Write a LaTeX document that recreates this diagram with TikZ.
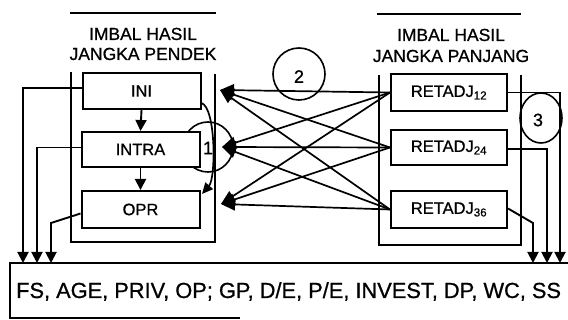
\documentclass[tikz,border=0pt]{standalone}
\usepackage{fontspec}
\setmainfont{Liberation Sans}[FakeBold=0.8]
\usetikzlibrary{arrows.meta}
\begin{document}
\begin{tikzpicture}[x=1pt,y=-1pt,
  box/.style={draw, line width=2pt, fill=white, minimum width=118pt, minimum height=36pt, inner sep=0pt, font=\fontsize{16.5}{18}\selectfont},
  frame/.style={line width=1.3pt},
  head/.style={font=\fontsize{17.5}{19}\selectfont, anchor=base},
  num/.style={font=\fontsize{18}{20}\selectfont},
  conn/.style={line width=1.9pt, -{Triangle[length=11pt,width=11pt]}},
  cross/.style={line width=1.7pt, -{Triangle[length=14pt,width=12pt]}}]
\useasboundingbox (0,0) rectangle (568,320);
% headings
\draw[frame] (70,13) -- (216,13);
\draw[frame] (377,14) -- (521,14);
\node[head] (h1a) at (143,40) {IMBAL HASIL};
\node[head] (h1b) at (143,60) {JANGKA PENDEK};
\node[head] (h2a) at (451,41) {IMBAL HASIL};
\node[head] (h2b) at (451,62) {JANGKA PANJANG};
% outer frames
\draw[frame] (71,72) -- (71,242) -- (215,242) -- (215,74);
\draw[frame] (379,75) -- (379,245) -- (521,245) -- (521,75);
% circles
\draw[line width=1.6pt] (208,147) circle (25);
\node[num] (c1) at (208,148) {1};
\draw[line width=1.6pt] (299,74) circle (26);
\node[num] (c2) at (299,76.5) {2};
\draw[line width=1.6pt] (541,118) ellipse (21 and 25);
\node[num] (c3) at (538,120) {3};
% boxes
\node[box] (ini) at (141.5,91) {INI};
\node[box, minimum height=35pt] (intra) at (140.5,149.5) {INTRA};
\node[box, minimum height=37pt] (opr) at (140.5,209.5) {OPR};
\node[box, minimum width=116pt, minimum height=37pt] (r12) at (449,92.5) {RETADJ\textsubscript{12}};
\node[box, minimum width=116pt, minimum height=35pt] (r24) at (449,147.5) {RETADJ\textsubscript{24}};
\node[box, minimum width=116pt, minimum height=37pt] (r36) at (449,209.5) {RETADJ\textsubscript{36}};
% bottom box
\draw[line width=1.7pt] (568,263) -- (10,263) -- (10,318) -- (240,318);
\node[font=\fontsize{21.8}{25}\selectfont, anchor=base west, inner sep=0pt] (vars) at (16,298) {FS, AGE, PRIV, OP; GP, D/E, P/E, INVEST, DP, WC, SS};
% internal arrows
\draw[conn] (ini.south) -- (intra.north);
\draw[conn] (intra.south) -- (opr.north);
\coordinate (cend) at (202,194);
\draw[line width=1.7pt, -{Triangle[length=11pt,width=10pt]}] ([yshift=-12pt]ini.east) .. controls (216,108) and (216,178) .. (cend);
% targets of crossing arrows
\coordinate (t1) at (220,90);
\coordinate (t2) at (222,147);
\coordinate (t3) at (221,204);
\foreach \s in {r12,r24,r36}{
  \foreach \t in {t1,t2,t3}{
    \draw[cross] (\s.west) -- (\t);
  }
}
% arrows to bottom box
\coordinate (b1) at (23,263);
\coordinate (b2) at (37,263);
\coordinate (b3) at (51,263);
\coordinate (b4) at (533,263);
\coordinate (b5) at (547,263);
\coordinate (b6) at (560,263);
\draw[conn] ([yshift=3pt]ini.west) -| (b1);
\draw[conn] ([yshift=2pt]intra.west) -| (b2);
\draw[conn] ([yshift=-4pt]opr.west) -- (51,223) -- (b3);
\draw[conn] (r12.east) -| (b6);
\draw[conn] ([yshift=-1.5pt]r24.east) -| (b5);
\draw[conn] ([yshift=1pt]r36.east) -- (533,223) -- (b4);
\end{tikzpicture}
\end{document}
